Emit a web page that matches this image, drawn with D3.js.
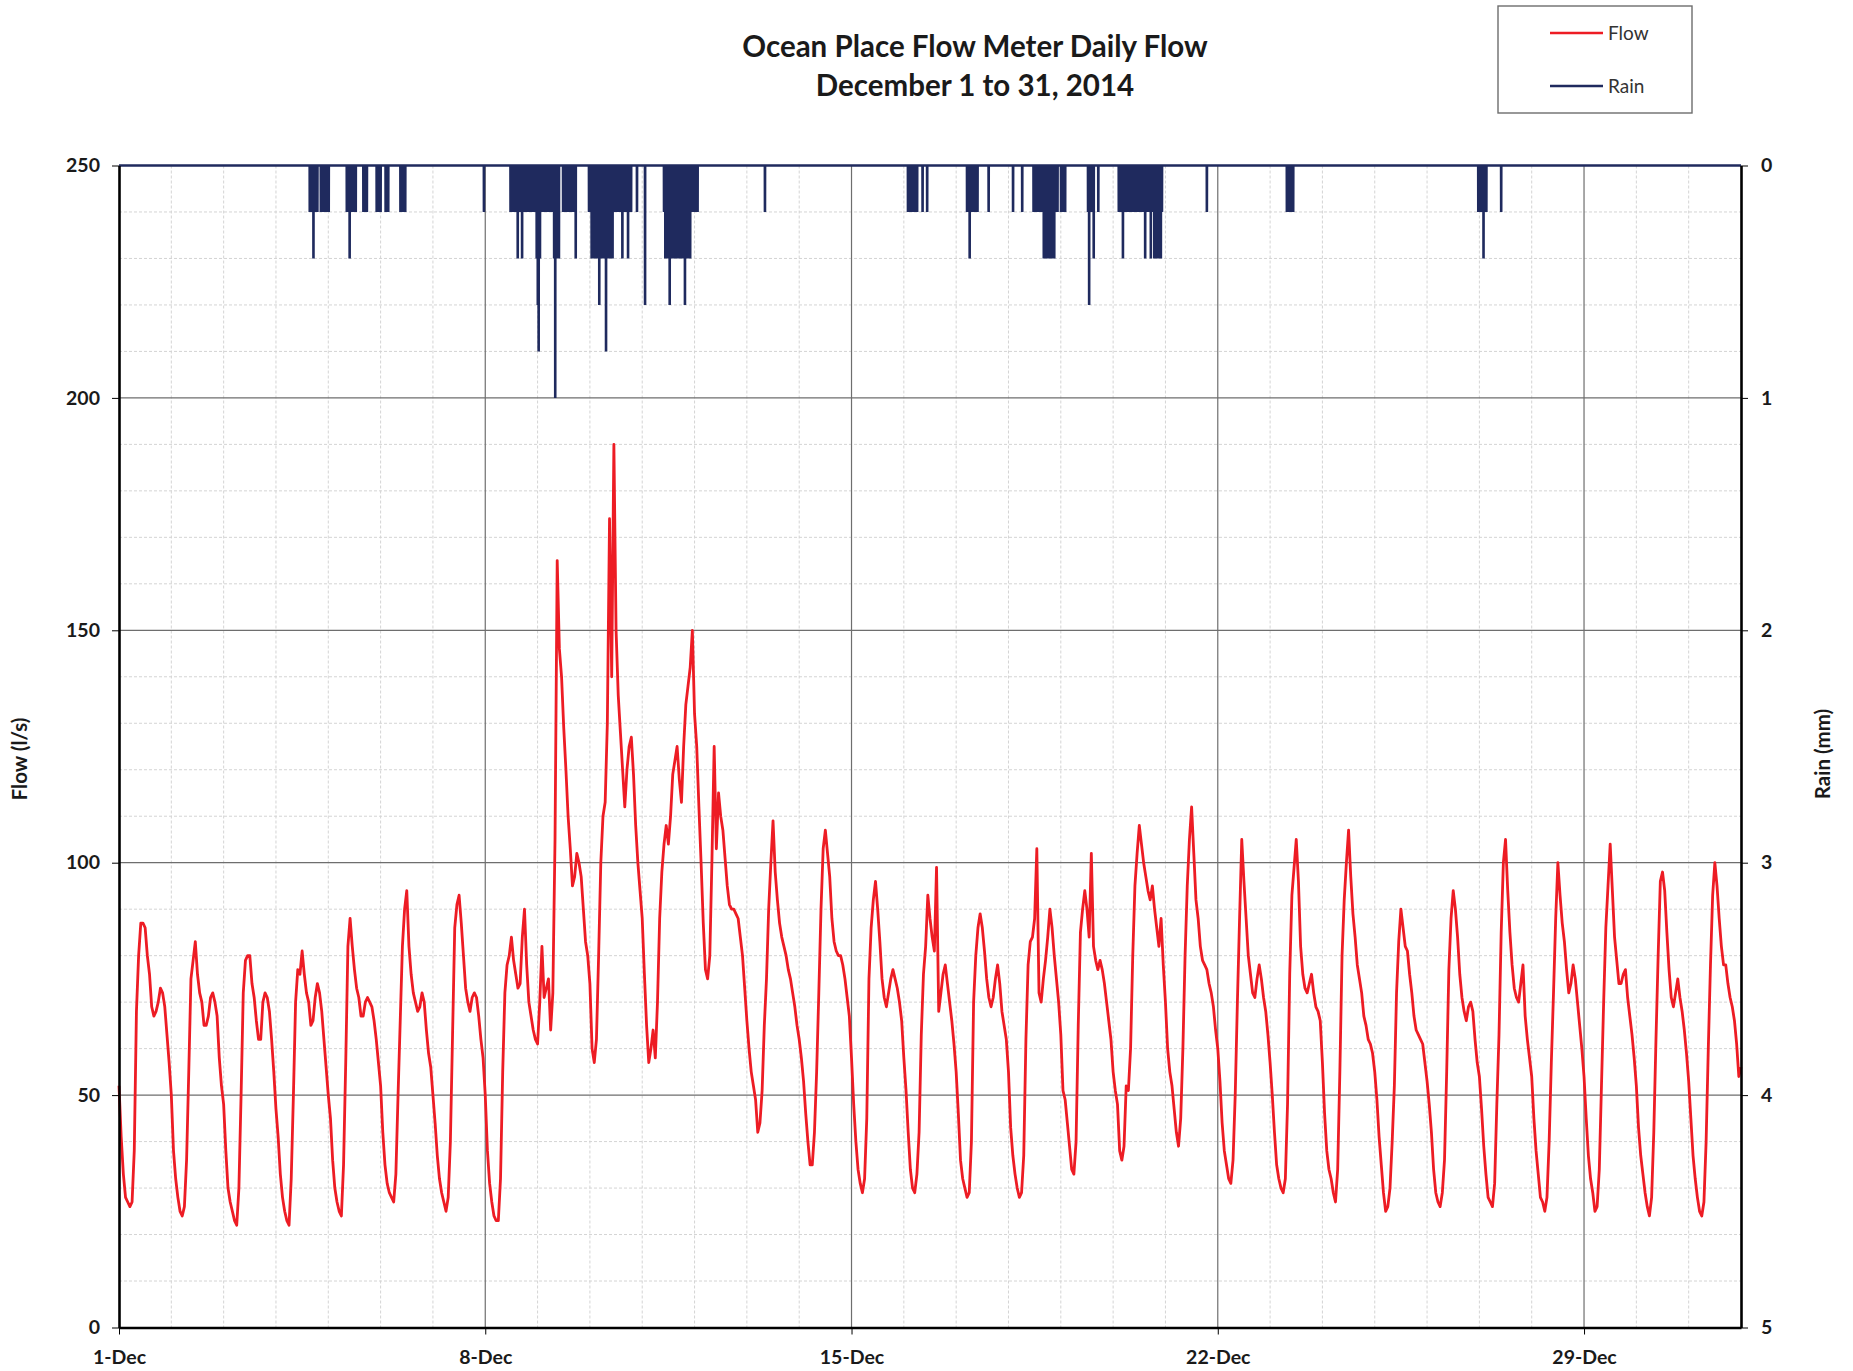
<!DOCTYPE html>
<html>
<head>
<meta charset="utf-8">
<script src="https://cdn.jsdelivr.net/npm/d3@7"></script>
<style>
  body { margin: 0; background: #fff; }
  text { font-family: Lato, "Open Sans", sans-serif; }
</style>
</head>
<body>
<div id="chart"></div>
<script>
// hourly flow (l/s), one row per day, 1-Dec .. 31-Dec, hours 0..23
const flowByDay = [
  [52,41,33,28,27,26,27,38,68,80,87,87,86,80,76,69,67,68,70,73,72,69,63,57],
  [50,38,32,28,25,24,26,36,55,75,79,83,76,72,70,65,65,67,71,72,70,67,58,52],
  [48,38,30,27,25,23,22,30,50,72,79,80,80,74,71,66,62,62,70,72,71,68,62,55],
  [47,41,33,28,25,23,22,32,50,70,77,76,81,76,72,70,65,66,71,74,72,68,62,56],
  [50,45,36,30,27,25,24,35,57,82,88,82,77,73,71,67,67,70,71,70,69,66,62,57],
  [52,42,35,31,29,28,27,33,50,66,82,90,94,82,76,72,70,68,69,72,70,64,59,56],
  [50,44,37,32,29,27,25,28,40,63,86,91,93,87,80,73,70,68,71,72,71,67,62,58],
  [50,38,31,27,24,23,23,32,55,72,78,80,84,79,76,73,74,84,90,78,70,67,64,62],
  [61,70,82,71,73,75,64,72,105,165,146,140,129,120,110,103,95,97,102,100,97,90,83,80],
  [74,60,57,62,80,100,110,113,130,174,140,190,150,136,128,120,112,120,125,127,119,108,100,94],
  [88,76,65,57,60,64,58,70,88,98,104,108,104,110,119,122,125,118,113,125,134,138,142,150],
  [132,125,112,100,87,77,75,80,101,125,103,115,110,107,101,95,91,90,90,89,88,84,80,73],
  [66,60,55,52,49,42,44,51,65,75,90,100,109,98,92,87,84,82,80,77,75,72,69,65],
  [62,58,53,46,40,35,35,42,55,72,90,103,107,102,97,88,83,81,80,80,78,75,71,67],
  [58,48,40,34,31,29,32,45,75,86,92,96,90,83,75,71,69,72,75,77,75,73,70,66],
  [58,51,42,34,30,29,33,42,63,76,82,93,88,84,81,99,68,72,76,78,74,70,66,61],
  [55,46,36,32,30,28,29,40,70,80,86,89,86,81,75,71,69,71,75,78,74,68,65,62],
  [55,43,37,33,30,28,29,37,62,78,83,84,88,103,72,70,75,79,84,90,86,80,75,70],
  [63,51,49,44,39,34,33,40,65,85,90,94,90,84,102,82,79,77,79,77,74,70,66,62],
  [55,51,48,38,36,39,52,51,60,80,95,102,108,104,100,97,94,92,95,90,86,82,88,78],
  [70,60,55,52,47,42,39,45,60,80,95,105,112,102,92,88,82,79,78,77,74,72,69,64],
  [60,53,44,38,35,32,31,36,50,70,88,105,96,88,80,76,72,71,75,78,75,71,68,63],
  [57,50,42,35,32,30,29,32,48,76,93,99,105,96,82,76,73,72,74,76,72,69,68,66],
  [57,46,38,34,32,29,27,34,55,80,92,100,107,97,89,84,78,75,72,67,65,62,61,59],
  [55,49,41,35,29,25,26,30,40,52,72,83,90,86,82,81,76,72,67,64,63,62,61,57],
  [53,48,42,34,29,27,26,29,36,55,77,88,94,90,84,76,71,68,66,69,70,68,62,57],
  [54,47,39,33,28,27,26,31,48,63,85,100,105,94,85,78,73,71,70,74,78,67,62,58],
  [54,45,38,33,28,27,25,28,40,57,72,88,100,93,87,83,77,72,74,78,75,70,65,60],
  [54,45,37,32,29,25,26,34,52,70,86,95,104,94,84,79,74,74,76,77,71,67,63,58],
  [52,43,37,33,29,26,24,28,42,62,80,96,98,94,85,77,71,69,72,75,71,68,64,59],
  [53,45,37,32,28,25,24,27,40,60,78,93,100,95,88,82,78,78,74,71,69,66,61,54]
]
const flowEnd = 56   // reading at 1-Jan 00:00

// rain gauge tips: hours since 1-Dec 00:00, and depth (mm)
const rainHours = [
  87.5,88,88.5,89.2,89.8,90.4,91,
  92.6,93.2,93.8,94.4,95,95.6,96.2,
  104.5,105.1,105.8,106.4,107,107.6,108.2,108.6,
  112.1,113.2,113.7, 118.2,118.8,119.4,120, 122.3,123,123.5, 129.1,129.7,130.3,130.9,131.3,
  167.4,
  179.6,180.2,180.8,181.4,182,182.5,182.9,183.4,183.9,184.4,184.9,185.4,185.9,186.4,186.9,187.4,187.9,188.4,188.9,189.4,189.9,190.4,190.9,
  191.6,192.1,192.5,193.1,
  193.8,194.4,195,195.6,196.2,196.8,197.4,198,198.6,199.2,
  199.6,200.1,200.6,201.2,201.8,
  203.7,204.3,204.9,205.5,205.9, 206.9,207.5,208.1,208.7,209.5,
  215.6,216.2,216.8,217.4,218,218.6,219.2,219.8,220.3,220.9,221.5,222.2,222.8,223.4,224,224.6,225.2,225.8,226.4,
  227,227.6,228.2,228.8,229.4,230,230.9,231.5,232.1,232.7,233.5,234.2,234.9,
  237.6,241.3,
  250,250.6,251.2,251.8,252.6,253.2,253.8,254.4,255,255.6,256.2,256.8,257.4,258,258.6,259.2,259.6,260.2,260.8,261.4,262,262.6,263.2,263.8,264.4,265,265.4,
  296.3,
  361.9,362.5,363.1,363.7,364.3,364.9,365.5,366.1, 368.6,370.7,
  389,389.6,390.2,390.8,391.4,392,392.6, 393.8, 398.9, 410.1, 414.3,
  419.5,420.1,420.7,421.3,421.9,422.5,423.1,423.7,424.2,424.8,425.4,426,426.6,427.2,427.8,428.4,429,429.4,430,430.5,
  432.1,432.7,433.3,434,
  444.5,445,445.5,446.1, 447.1, 449.2,
  458.6,459.2,459.8,460.5,461.1,461.7,462.3,462.9,463.5,464.1,464.7,465.3,465.9,466.7,
  467.9,468.5,469.1,469.7,470.2,470.7,471.3,471.9,472.5,473.3,473.9,474.4,474.9,475.5,476.1,476.7,477.3,477.9,478.4,
  499,
  535.7,536.3,536.9,537.5,538.1,538.6,
  623.5,624.1,624.7,625.3,625.9,626.5,627.2,
  634
]
const rainMm = [
  .2,.2,.2,.4,.2,.2,.2,
  .2,.2,.2,.2,.2,.2,.2,
  .2,.2,.4,.2,.2,.2,.2,.2,
  .2,.2,.2, .2,.2,.2,.2, .2,.2,.2, .2,.2,.2,.2,.2,
  .2,
  .2,.2,.2,.2,.2,.2,.4,.2,.2,.2,.4,.2,.2,.2,.2,.2,.2,.2,.2,.2,.2,.2,.2,
  .4,.6,.8,.4,
  .2,.2,.2,.2,.2,.2,.2,.2,.2,.2,
  .4,1,.4,.4,.4,
  .2,.2,.2,.2,.2, .2,.2,.2,.2,.4,
  .2,.2,.4,.4,.4,.4,.4,.4,.6,.4,.4,.4,.4,.8,.4,.4,.4,.4,.4,
  .2,.2,.2,.2,.2,.2,.4,.2,.2,.2,.4,.2,.2,
  .2,.6,
  .2,.4,.4,.4,.6,.4,.4,.4,.4,.2,.4,.4,.4,.4,.4,.4,.6,.4,.4,.4,.4,.2,.2,.2,.2,.2,.2,
  .2,
  .2,.2,.2,.2,.2,.2,.2,.2, .2,.2,
  .2,.2,.4,.2,.2,.2,.2, .2, .2, .2, .2,
  .2,.2,.2,.2,.2,.2,.2,.2,.4,.4,.4,.4,.2,.4,.2,.4,.4,.2,.2,.2,
  .2,.2,.2,.2,
  .2,.6,.2,.2, .4, .2,
  .2,.2,.2,.4,.2,.2,.2,.2,.2,.2,.2,.2,.2,.2,
  .2,.2,.2,.2,.2,.4,.2,.2,.2,.4,.2,.2,.4,.4,.2,.4,.4,.4,.2,
  .2,
  .2,.2,.2,.2,.2,.2,
  .2,.2,.2,.2,.4,.2,.2,
  .2
]

const flowTicks = [0, 50, 100, 150, 200, 250]
const rainTicks = [0, 1, 2, 3, 4, 5]
const dateTicks = [1, 8, 15, 22, 29]   // December days with labels

const W = 1853, H = 1371
const plot = { left: 119, right: 1741, top: 165.5, bottom: 1327.5 }
const start = Date.UTC(2014, 11, 1)
const hourMs = 3600 * 1000
const toDate = h => new Date(start + h * hourMs)

const svg = d3.select('#chart').append('svg')
    .attr('width', W)
    .attr('height', H)

const x = d3.scaleUtc()
    .domain([toDate(0), toDate(31 * 24)])
    .range([plot.left, plot.right])
const y = d3.scaleLinear().domain([0, 250]).range([plot.bottom, plot.top])
const yRain = d3.scaleLinear().domain([0, 5]).range([plot.top, plot.bottom])

// minor grid
const grid = svg.append('g')
grid.selectAll('.hminor')
    .data(d3.range(10, 250, 10).filter(v => v % 50 != 0))
    .enter().append('line')
    .attr('x1', plot.left).attr('x2', plot.right)
    .attr('y1', d => y(d)).attr('y2', d => y(d))
    .attr('stroke', '#d4d4d4').attr('stroke-width', 1)
    .attr('stroke-dasharray', '3,2')
grid.selectAll('.vminor')
    .data(d3.range(1, 31).filter(d => d % 7 != 0))
    .enter().append('line')
    .attr('x1', d => x(toDate(d * 24))).attr('x2', d => x(toDate(d * 24)))
    .attr('y1', plot.top).attr('y2', plot.bottom)
    .attr('stroke', '#d4d4d4').attr('stroke-width', 1)
    .attr('stroke-dasharray', '3,2')

// major grid
grid.selectAll('.hmajor')
    .data(flowTicks.slice(1))
    .enter().append('line')
    .attr('x1', plot.left).attr('x2', plot.right)
    .attr('y1', d => y(d)).attr('y2', d => y(d))
    .attr('stroke', '#6e6e6e').attr('stroke-width', 1.2)
grid.selectAll('.vmajor')
    .data(dateTicks.slice(1))
    .enter().append('line')
    .attr('x1', d => x(toDate((d - 1) * 24))).attr('x2', d => x(toDate((d - 1) * 24)))
    .attr('y1', plot.top).attr('y2', plot.bottom)
    .attr('stroke', '#6e6e6e').attr('stroke-width', 1.2)

// flow series
const flowPts = []
flowByDay.forEach((row, d) => {
    row.forEach((v, h) => flowPts.push({ t: d * 24 + h, v: v }))
})
flowPts.push({ t: 31 * 24, v: flowEnd })

svg.append('path')
    .datum(flowPts)
    .attr('fill', 'none')
    .attr('stroke', '#ed1c24')
    .attr('stroke-width', 2.8)
    .attr('stroke-linejoin', 'round')
    .attr('d', d3.line().x(d => x(toDate(d.t))).y(d => y(d.v)))

// rain series (spikes down from the top)
const rainPts = [{ t: 0, v: 0 }]
rainHours.forEach((h, i) => {
    rainPts.push({ t: h - 0.04, v: 0 })
    rainPts.push({ t: h, v: rainMm[i] })
    rainPts.push({ t: h + 0.04, v: 0 })
})
rainPts.push({ t: 31 * 24, v: 0 })
rainPts.sort((a, b) => a.t - b.t)

svg.append('path')
    .datum(rainPts)
    .attr('fill', 'none')
    .attr('stroke', '#1f2a5e')
    .attr('stroke-width', 2.6)
    .attr('d', d3.line().x(d => x(toDate(d.t))).y(d => yRain(d.v)))

// axes
const styleAxis = (g) => {
    g.selectAll('path').attr('stroke', '#000').attr('stroke-width', 2.6)
    g.selectAll('line').attr('stroke', '#000').attr('stroke-width', 1)
    g.selectAll('text')
        .attr('font-family', 'Lato, sans-serif')
        .attr('font-size', 19.5)
        .attr('font-weight', 'bold')
        .attr('fill', '#1a1a1a')
}

svg.append('g')
    .attr('transform', 'translate(' + plot.left + ',0)')
    .call(d3.axisLeft(y).tickValues(flowTicks).tickSize(7).tickSizeOuter(0).tickPadding(12))
    .call(styleAxis)

svg.append('g')
    .attr('transform', 'translate(' + plot.right + ',0)')
    .call(d3.axisRight(yRain).tickValues(rainTicks).tickFormat(d3.format('d'))
        .tickSize(7).tickSizeOuter(0).tickPadding(13))
    .call(styleAxis)

svg.append('g')
    .attr('transform', 'translate(0,' + plot.bottom + ')')
    .call(d3.axisBottom(x)
        .tickValues(dateTicks.map(d => toDate((d - 1) * 24)))
        .tickFormat(d3.utcFormat('%-d-%b'))
        .tickSize(7).tickSizeOuter(0).tickPadding(16))
    .call(styleAxis)

// axis titles
svg.append('text')
    .attr('transform', 'translate(27,759) rotate(-90)')
    .attr('text-anchor', 'middle')
    .attr('font-size', 20.5).attr('font-weight', 'bold').attr('fill', '#1a1a1a')
    .text('Flow (l/s)')

svg.append('text')
    .attr('transform', 'translate(1830,754) rotate(-90)')
    .attr('text-anchor', 'middle')
    .attr('font-size', 20.5).attr('font-weight', 'bold').attr('fill', '#1a1a1a')
    .text('Rain (mm)')

// title
svg.append('text')
    .attr('x', 975).attr('y', 57)
    .attr('text-anchor', 'middle')
    .attr('font-size', 29.5).attr('font-weight', 'bold').attr('fill', '#1a1a1a')
    .text('Ocean Place Flow Meter Daily Flow')
svg.append('text')
    .attr('x', 975).attr('y', 96)
    .attr('text-anchor', 'middle')
    .attr('font-size', 29.5).attr('font-weight', 'bold').attr('fill', '#1a1a1a')
    .text('December 1 to 31, 2014')

// legend
const legend = svg.append('g')
legend.append('rect')
    .attr('x', 1498).attr('y', 6).attr('width', 194).attr('height', 107)
    .attr('fill', '#fff').attr('stroke', '#6d6d6d').attr('stroke-width', 1.4)

const legendItems = [
    { name: 'Flow', color: '#ed1c24', y: 33 },
    { name: 'Rain', color: '#1f2a5e', y: 86 }
]
const li = legend.selectAll('.item')
    .data(legendItems)
    .enter().append('g')
    .attr('transform', d => 'translate(0,' + d.y + ')')
li.append('line')
    .attr('x1', 1550).attr('x2', 1603)
    .attr('stroke', d => d.color).attr('stroke-width', 2.6)
li.append('text')
    .attr('x', 1608).attr('y', 7)
    .attr('font-size', 19).attr('fill', '#333')
    .text(d => d.name)
</script>
</body>
</html>
